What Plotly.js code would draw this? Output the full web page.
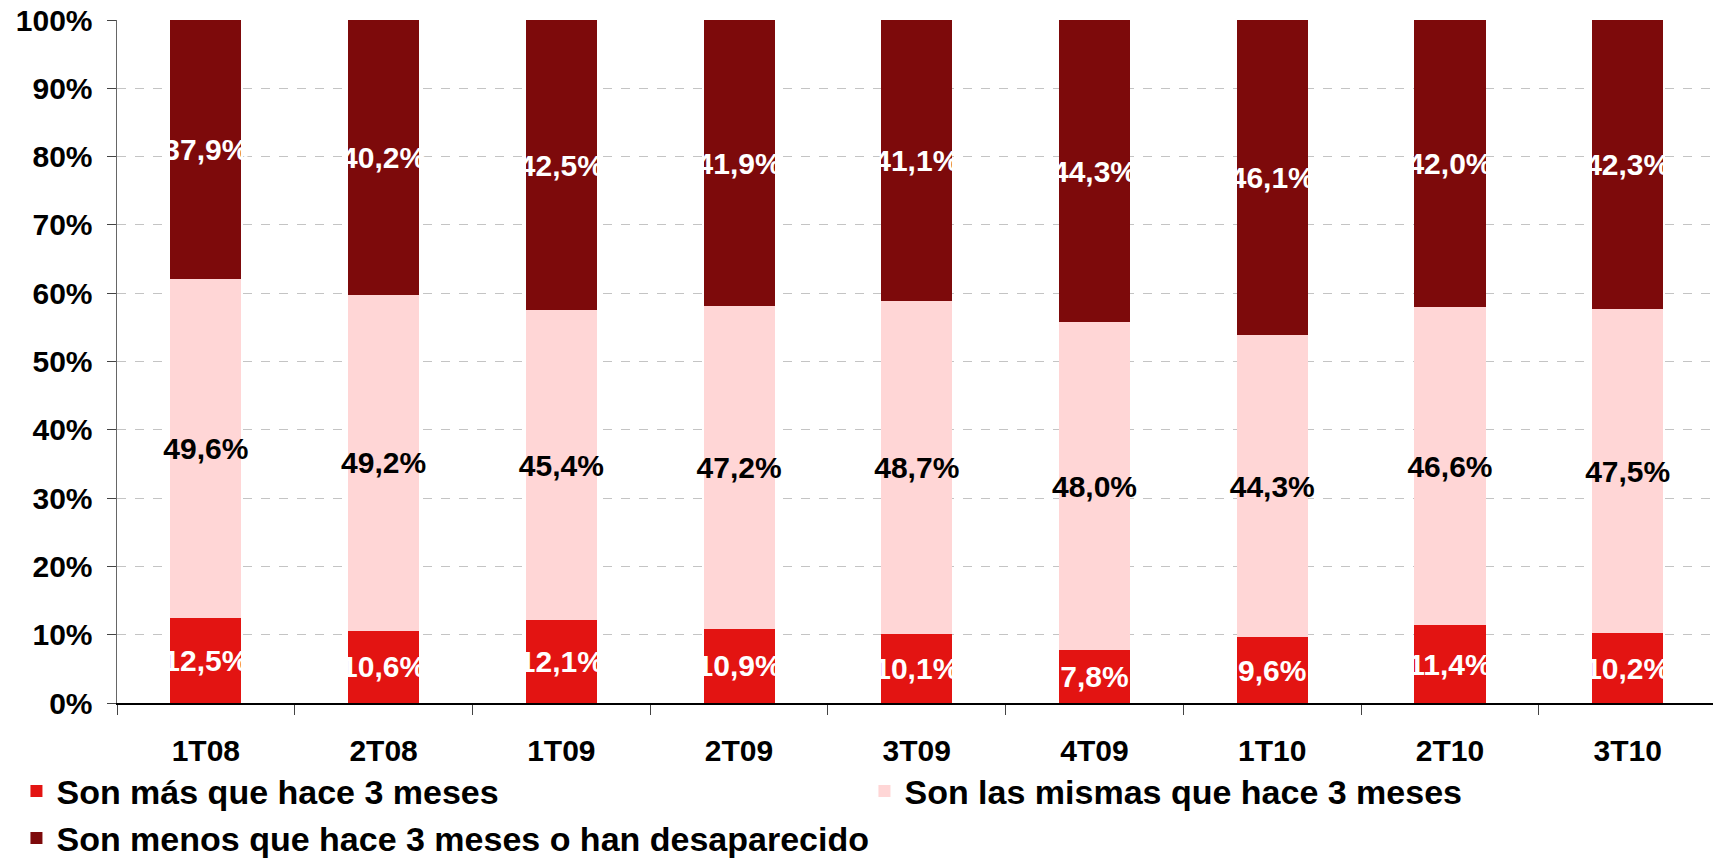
<!DOCTYPE html>
<html>
<head>
<meta charset="utf-8">
<script src="https://cdn.plot.ly/plotly-3.0.1.min.js"></script>
<style>html,body{margin:0;padding:0;background:#fff;}#chart{width:1713px;height:863px;}</style>
</head>
<body>
<div id="chart"></div>
<script>
const categories = ['1T08','2T08','1T09','2T09','3T09','4T09','1T10','2T10','3T10'];
const masValues = [12.5,10.6,12.1,10.9,10.1,7.8,9.6,11.4,10.2];
const mismasValues = [49.6,49.2,45.4,47.2,48.7,48.0,44.3,46.6,47.5];
const menosValues = [37.9,40.2,42.5,41.9,41.1,44.3,46.1,42.0,42.3];
const seriesNames = ['Son más que hace 3 meses','Son las mismas que hace 3 meses','Son menos que hace 3 meses o han desaparecido'];
const yTickVals = [0,10,20,30,40,50,60,70,80,90,100];
const yTickText = ['0%','10%','20%','30%','40%','50%','60%','70%','80%','90%','100%'];

const FONT = 'Liberation Sans, Arial, Helvetica, sans-serif';
const fmt = v => v.toFixed(1).replace('.', ',') + '%';

function mk(vals, name, color, textColor) {
  return {
    type: 'bar', x: categories, y: vals, name: name,
    marker: {color: color, line: {width: 0}},
    text: vals.map(fmt), textposition: 'inside', insidetextanchor: 'middle',
    textangle: 0, constraintext: 'none',
    textfont: {family: FONT, size: 30, color: textColor, weight: 'bold'},
    hoverinfo: 'skip'
  };
}

const data = [
  mk(masValues, seriesNames[0], '#E31412', '#FFFFFF'),
  mk(mismasValues, seriesNames[1], '#FFD6D6', '#000000'),
  mk(menosValues, seriesNames[2], '#7D0A0B', '#FFFFFF')
];

const layout = {
  width: 1713, height: 863,
  margin: {l: 117, r: 0, t: 20, b: 160, autoexpand: false},
  paper_bgcolor: '#fff', plot_bgcolor: '#fff',
  barmode: 'stack', barnorm: 'percent', bargap: 0.6,
  showlegend: true,
  legend: {
    orientation: 'h', traceorder: 'normal',
    xref: 'paper', yref: 'paper',
    x: -0.063, xanchor: 'left', y: -0.0868, yanchor: 'top',
    entrywidth: 803, entrywidthmode: 'pixels',
    font: {family: FONT, size: 34, color: '#000', weight: 'bold'},
    bgcolor: 'rgba(0,0,0,0)'
  },
  xaxis: {
    type: 'category', range: [-0.5, 8.48],
    tickson: 'boundaries', ticks: 'outside', ticklen: 10, tickcolor: '#444', tickwidth: 1,
    showline: true, linecolor: '#000', linewidth: 1.5,
    showgrid: false, zeroline: false, automargin: false,
    tickfont: {family: FONT, size: 30, color: '#000', weight: 'bold'},
    ticklabelstandoff: 20
  },
  yaxis: {
    range: [0, 100], tickvals: yTickVals, ticktext: yTickText,
    ticks: 'outside', ticklen: 9, tickcolor: '#444', tickwidth: 1,
    showline: true, linecolor: '#666', linewidth: 1.5,
    showgrid: true, gridcolor: '#C4C4C4', griddash: 'dash', gridwidth: 1,
    zeroline: false, automargin: false,
    tickfont: {family: FONT, size: 30, color: '#000', weight: 'bold'},
    ticklabelstandoff: 8
  }
};

Plotly.newPlot('chart', data, layout, {displayModeBar: false, staticPlot: true});
</script>
</body>
</html>
